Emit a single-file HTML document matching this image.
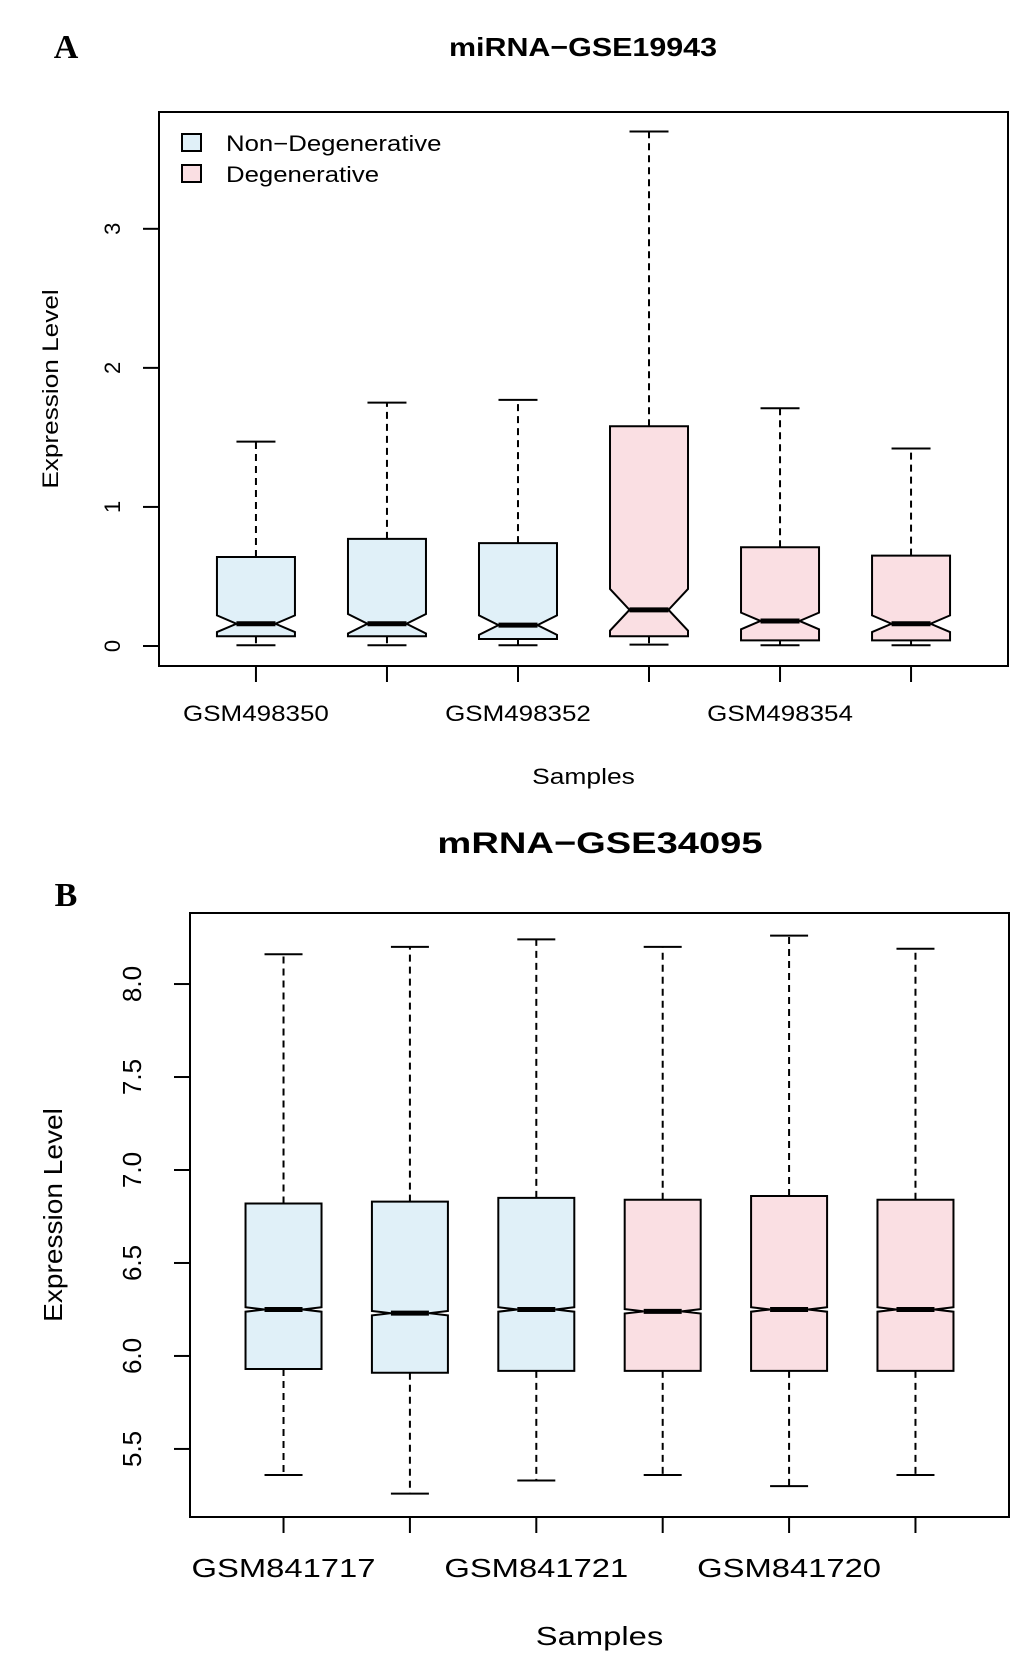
<!DOCTYPE html>
<html><head><meta charset="utf-8"><style>
html,body{margin:0;padding:0;background:#fff;}
svg{display:block;font-family:"Liberation Sans",sans-serif;}
</style></head><body>
<svg id="chart" width="1033" height="1662" viewBox="0 0 1033 1662" xmlns="http://www.w3.org/2000/svg">
<text x="66" y="58" font-family="Liberation Serif" font-weight="bold" font-size="34" text-anchor="middle">A</text>
<text id="ta" x="583" y="56" font-weight="bold" font-size="26" text-anchor="middle">miRNA−GSE19943</text>
<text x="66" y="906" font-family="Liberation Serif" font-weight="bold" font-size="34" text-anchor="middle">B</text>
<text id="tb" x="600" y="853" font-weight="bold" font-size="30" text-anchor="middle">mRNA−GSE34095</text>
<g id="ga"></g>
<g id="gb"></g>
<g>
<rect x="182" y="134" width="19" height="17" fill="#e0f0f8" stroke="#000" stroke-width="2"/>
<text class="lg" x="226" y="151" font-size="22">Non−Degenerative</text>
<rect x="182" y="165" width="19" height="17" fill="#fadfe3" stroke="#000" stroke-width="2"/>
<text class="lg" x="226" y="182" font-size="22">Degenerative</text>
</g>
</svg>
<script>
const aSamples=["GSM498350","GSM498351","GSM498352","GSM498353","GSM498354","GSM498355"];
const aGroup=[0,0,0,1,1,1];
const aMin=[0.005,0.005,0.005,0.01,0.005,0.005];
const aQ1=[0.07,0.07,0.05,0.07,0.04,0.04];
const aMed=[0.16,0.16,0.15,0.26,0.18,0.16];
const aQ3=[0.64,0.77,0.74,1.58,0.71,0.65];
const aMax=[1.47,1.75,1.77,3.70,1.71,1.42];
const aNotch=[0.06,0.07,0.07,0.15,0.06,0.06];
const aTicks=[0,1,2,3];
const bSamples=["GSM841717","GSM841718","GSM841721","GSM841719","GSM841720","GSM841722"];
const bGroup=[0,0,0,1,1,1];
const bMin=[5.36,5.26,5.33,5.36,5.30,5.36];
const bQ1=[5.93,5.91,5.92,5.92,5.92,5.92];
const bMed=[6.25,6.23,6.25,6.24,6.25,6.25];
const bQ3=[6.82,6.83,6.85,6.84,6.86,6.84];
const bMax=[8.16,8.20,8.24,8.20,8.26,8.19];
const bNotch=[0.012,0.012,0.012,0.012,0.012,0.012];
const bTicks=[5.5,6.0,6.5,7.0,7.5,8.0];
const bTickLabels=["5.5","6.0","6.5","7.0","7.5","8.0"];
const fills=["#e0f0f8","#fadfe3"];
const NS="http://www.w3.org/2000/svg";
function mk(p,tag,at){const e=document.createElementNS(NS,tag);for(const k in at)e.setAttribute(k,at[k]);p.appendChild(e);return e;}
function stretch(el,f){const w=el.getComputedTextLength();if(w>0){el.setAttribute('textLength',(w*f).toFixed(1));el.setAttribute('lengthAdjust','spacingAndGlyphs');}}
function draw(g,cfg){
 const {L,R,T,B,ymin,ymax,n}=cfg;
 const xs=i=>L+(i+1-0.26)*(R-L)/(n+0.48);
 const ys=v=>B-(v-ymin)/(ymax-ymin)*(B-T);
 const hw=cfg.hw;
 for(let i=0;i<n;i++){
  const cx=xs(i);
  const wl=mk(g,'line',{x1:cx,x2:cx,y1:ys(cfg.q3[i]),y2:ys(cfg.max[i]),stroke:'#000','stroke-width':2,'stroke-dasharray':'7,5'});
  
  const wl2=mk(g,'line',{x1:cx,x2:cx,y1:ys(cfg.q1[i]),y2:ys(cfg.min[i]),stroke:'#000','stroke-width':2,'stroke-dasharray':'7,5'});
  
  const c1=mk(g,'line',{x1:cx-hw/2,x2:cx+hw/2,y1:ys(cfg.max[i]),y2:ys(cfg.max[i]),stroke:'#000','stroke-width':2});
  
  const c2=mk(g,'line',{x1:cx-hw/2,x2:cx+hw/2,y1:ys(cfg.min[i]),y2:ys(cfg.min[i]),stroke:'#000','stroke-width':2});
  
  const m=cfg.med[i],nt=cfg.notch[i],nw=hw/2;
  const pts=[[cx-hw,ys(cfg.q1[i])],[cx-hw,ys(m-nt)],[cx-nw,ys(m)],[cx-hw,ys(m+nt)],[cx-hw,ys(cfg.q3[i])],[cx+hw,ys(cfg.q3[i])],[cx+hw,ys(m+nt)],[cx+nw,ys(m)],[cx+hw,ys(m-nt)],[cx+hw,ys(cfg.q1[i])]];
  const bx=mk(g,'polygon',{points:pts.map(p=>p.join(',')).join(' '),fill:fills[cfg.grp[i]],stroke:'#000','stroke-width':2});
  
  const md=mk(g,'line',{x1:cx-nw,x2:cx+nw,y1:ys(m),y2:ys(m),stroke:'#000','stroke-width':5});
  
  const tk=mk(g,'line',{x1:cx,x2:cx,y1:B,y2:B+16,stroke:'#000','stroke-width':2});
  
  if(i%2===0){const t=mk(g,'text',{x:cx,y:B+cfg.lblDy,'font-size':cfg.lfs,'text-anchor':'middle'});t.textContent=cfg.names[i];
   stretch(t,cfg.lf);}
 }
 const fr=mk(g,'rect',{x:L,y:T,width:R-L,height:B-T,fill:'none',stroke:'#000','stroke-width':2});
 
 cfg.ticks.forEach((v,k)=>{const y=ys(v);
  const l=mk(g,'line',{x1:L-16,x2:L,y1:y,y2:y,stroke:'#000','stroke-width':2});
  
  const t=mk(g,'text',{x:0,y:0,'font-size':cfg.tfs,'text-anchor':'middle',transform:`translate(${cfg.tx},${y}) rotate(-90)`});t.textContent=cfg.tlabels[k];
  });
 const yt=mk(g,'text',{x:0,y:0,'font-size':cfg.afs,'text-anchor':'middle',transform:`translate(${cfg.ytx},${(T+B)/2}) rotate(-90)`});yt.textContent='Expression Level';
 stretch(yt,cfg.yf);
 const xt=mk(g,'text',{x:(L+R)/2,y:cfg.xty,'font-size':cfg.afs,'text-anchor':'middle'});xt.textContent='Samples';
 stretch(xt,cfg.xf);
}
draw(document.getElementById('ga'),{L:159,R:1008,T:112,B:666,ymin:-0.1439,ymax:3.84,n:6,hw:39,min:aMin,q1:aQ1,med:aMed,q3:aQ3,max:aMax,notch:aNotch,grp:aGroup,names:aSamples,ticks:aTicks,tlabels:aTicks.map(String),tx:120,ytx:58,xty:784,lblDy:55,lfs:22,tfs:22,afs:22,lf:1.18,yf:1.19,xf:1.2});
draw(document.getElementById('gb'),{L:190,R:1009,T:913,B:1517,ymin:5.134,ymax:8.382,n:6,hw:38,min:bMin,q1:bQ1,med:bMed,q3:bQ3,max:bMax,notch:bNotch,grp:bGroup,names:bSamples,ticks:bTicks,tlabels:bTickLabels,tx:141,ytx:62,xty:1645,lblDy:60,lfs:26,tfs:26,afs:26,lf:1.26,yf:1.08,xf:1.26});
stretch(document.getElementById('ta'),1.17);
stretch(document.getElementById('tb'),1.27);
document.querySelectorAll('.lg').forEach(e=>stretch(e,1.17));
</script>
</body></html>
